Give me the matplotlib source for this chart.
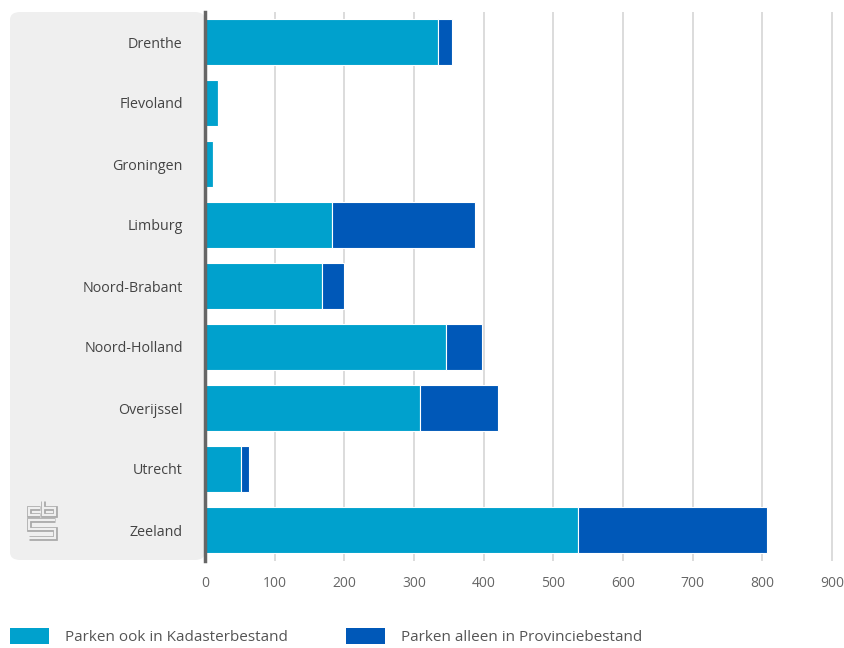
import matplotlib
matplotlib.use("Agg")
import matplotlib.pyplot as plt
from matplotlib.patches import FancyBboxPatch, Patch
from matplotlib.lines import Line2D

provinces = ["Drenthe", "Flevoland", "Groningen", "Limburg", "Noord-Brabant",
             "Noord-Holland", "Overijssel", "Utrecht", "Zeeland"]
kadaster = [335, 18, 11, 183, 168, 346, 309, 52, 535]
provincie_only = [20, 0, 0, 204, 32, 52, 111, 11, 271]
series_names = ["Parken ook in Kadasterbestand", "Parken alleen in Provinciebestand"]
xticks = [0, 100, 200, 300, 400, 500, 600, 700, 800, 900]

c_light = "#00a1cd"
c_dark = "#0058b8"
plt.rcParams['font.family'] = ['Open Sans', 'DejaVu Sans']

W, H = 845, 648
fig = plt.figure(figsize=(W / 100, H / 100), dpi=100)

def fx(x):
    return x / W

def fy(y):
    return 1 - y / H

# grey panel behind category labels
panel = FancyBboxPatch((fx(10), fy(560)), fx(205) - fx(10), fy(12) - fy(560),
                       boxstyle="round,pad=0,rounding_size=0.012",
                       transform=fig.transFigure, facecolor="#efefef",
                       edgecolor="none", zorder=0)
fig.add_artist(panel)

ax_left, ax_right, ax_top, ax_bottom = 205, 835.5, 11.5, 560.5
ax = fig.add_axes([fx(ax_left), fy(ax_bottom), fx(ax_right) - fx(ax_left),
                   fy(ax_top) - fy(ax_bottom)])
ax.patch.set_alpha(0)

y = list(range(len(provinces)))
ax.barh(y, kadaster, height=0.77, color=c_light, edgecolor="white", linewidth=0.8, zorder=3)
ax.barh(y, provincie_only, left=kadaster, height=0.77, color=c_dark,
        edgecolor="white", linewidth=0.8, zorder=3)

ax.set_xlim(0, 905)
ax.set_ylim(len(provinces) - 0.5, -0.5)
ax.set_xticks(xticks)
ax.set_yticks(y)
ax.set_yticklabels(provinces)
ax.grid(axis="x", color="#d9d9d9", linewidth=1.3, zorder=0)
ax.grid(axis="y", visible=False)
for s in ["top", "right", "bottom"]:
    ax.spines[s].set_visible(False)
ax.spines["left"].set_color("#666666")
ax.spines["left"].set_linewidth(2.5)
ax.spines["left"].set_zorder(5)
ax.tick_params(axis="x", length=0, pad=11, labelsize=10, labelcolor="#666666")
ax.tick_params(axis="y", length=0, pad=16, labelsize=10.3, labelcolor="#444444")

# cbs logo (outlined strokes)
paths = [
    [(40, 508), (29, 508), (29, 515), (40, 515)],
    [(43, 501), (43, 515), (55, 515), (55, 508), (43, 508)],
    [(55, 520), (29, 520), (29, 529), (55, 529), (55, 538), (29, 538)],
]
for p in paths:
    xs = [fx(a) for a, b in p]
    ys = [fy(b) for a, b in p]
    fig.add_artist(Line2D(xs, ys, transform=fig.transFigure, color="#a8a8a8",
                          linewidth=3.4, solid_joinstyle="miter", solid_capstyle="butt", zorder=2))
    fig.add_artist(Line2D(xs, ys, transform=fig.transFigure, color="#efefef",
                          linewidth=1.6, solid_joinstyle="miter", solid_capstyle="butt", zorder=2))

handles = [Patch(facecolor=c_light, edgecolor="none"), Patch(facecolor=c_dark, edgecolor="none")]
fig.legend(handles, series_names, loc="lower left", bbox_to_anchor=(fx(-4), fy(659)),
           ncol=2, frameon=False, fontsize=11, labelcolor="#555555",
           handlelength=2.6, handleheight=1.2, handletextpad=1.0, columnspacing=3.8)

fig.savefig("out.png", dpi=100)
